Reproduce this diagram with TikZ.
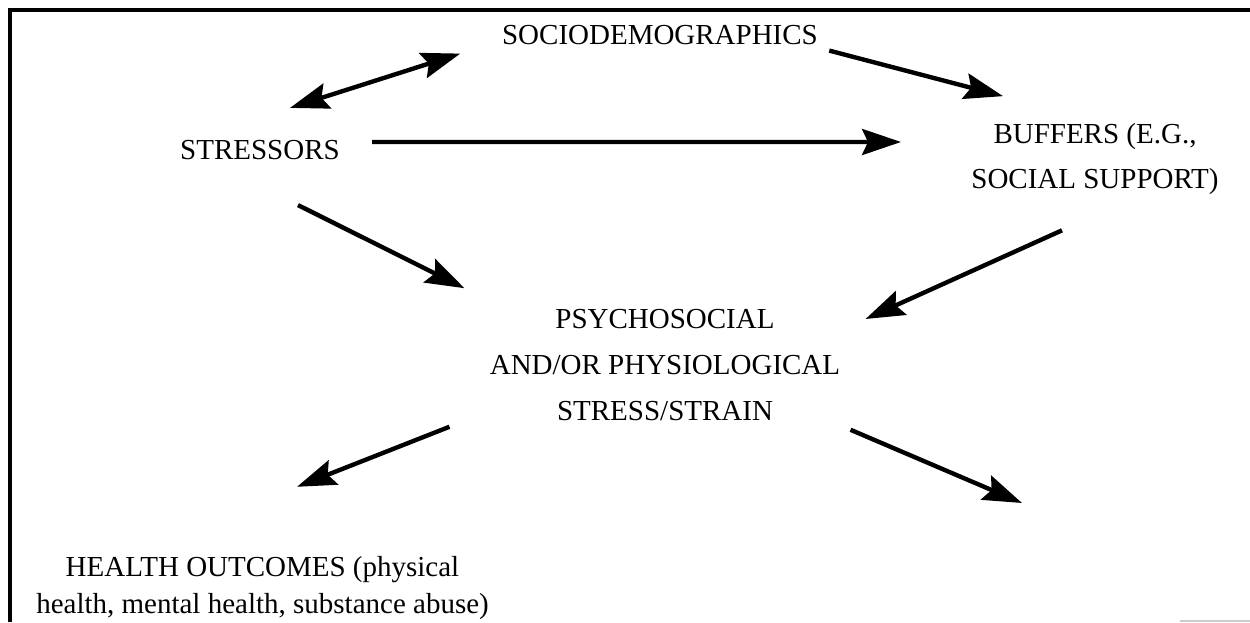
\documentclass[tikz,border=0pt]{standalone}
\usepackage{fontspec}
\setmainfont{Liberation Serif}
\usetikzlibrary{arrows.meta}

\begin{document}
\begin{tikzpicture}[
        >={Stealth[length=0.78cm,width=0.52cm,inset=0.12cm]},
        term/.style={inner sep=0pt,align=center,font=\fontsize{16.5}{26}\selectfont},
        link/.style={line width=2.5pt},
    ]
    \useasboundingbox (0,0) rectangle (25,12.44);
    % frame
    \draw[line width=0.08cm] (0.2,0) -- (0.2,12.24) -- (25,12.24);
    \draw[gray!40,line width=0.04cm] (23.6,0.03) -- (25,0.03);
    % terms
    \node[term] (socio) at (13.2,11.73) {SOCIODEMOGRAPHICS};
    \node[term] (stressors) at (5.2,9.44) {STRESSORS};
    \node[term] (buffers) at (21.9,9.26) {BUFFERS (E.G.,\\SOCIAL SUPPORT)};
    \node[term] (strain) at (13.3,5.14) {PSYCHOSOCIAL\\AND/OR PHYSIOLOGICAL\\STRESS/STRAIN};
    \node[term,font=\fontsize{16.5}{21.3}\selectfont] (health) at (5.25,0.68)
        {HEALTH OUTCOMES (physical\\health, mental health, substance abuse)};
    \coordinate (other) at (20.44,2.38);
    % arrows
    \draw[<->,link] ([xshift=0.6cm,yshift=0.64cm]stressors.north) -- ([xshift=-0.83cm,yshift=-0.16cm]socio.south west);
    \draw[->,link] ([xshift=0.64cm,yshift=0.16cm]stressors.east) -- ([xshift=-1.4cm,yshift=0.34cm]buffers.west);
    \draw[->,link] ([xshift=0.22cm,yshift=-0.1cm]socio.south east) -- ([xshift=0.64cm,yshift=0.53cm]buffers.north west);
    \draw[->,link] ([xshift=0.76cm,yshift=-0.9cm]stressors.south) -- ([xshift=-0.5cm,yshift=0.42cm]strain.north west);
    \draw[->,link] ([xshift=-0.66cm,yshift=-0.7cm]buffers.south) -- ([xshift=0.5cm,yshift=0.92cm]strain.east);
    \draw[->,link] ([xshift=-0.8cm,yshift=-0.12cm]strain.south west) -- ([xshift=0.69cm,yshift=1.38cm]health.north);
    \draw[->,link] ([xshift=0.2cm,yshift=-0.18cm]strain.south east) -- (other);
\end{tikzpicture}
\end{document}
